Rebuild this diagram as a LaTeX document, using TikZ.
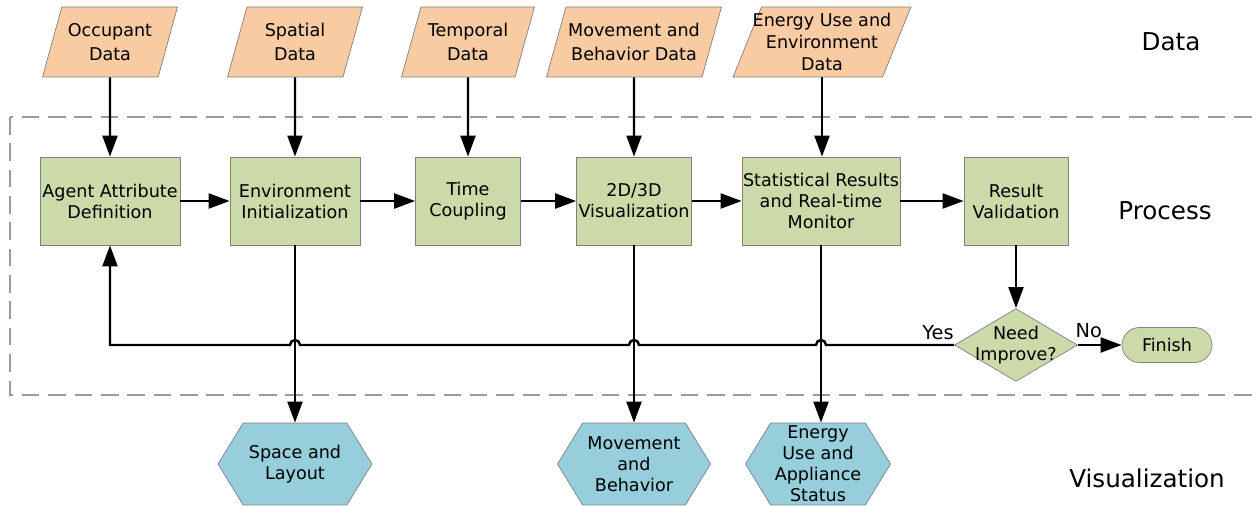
\documentclass[tikz,border=0pt]{standalone}
\usepackage{fontspec}
\setmainfont{DejaVu Sans}
\usetikzlibrary{shapes.geometric,shapes.symbols,arrows.meta}

\definecolor{datafill}{RGB}{249,203,163}
\definecolor{procfill}{RGB}{204,218,169}
\definecolor{visfill}{RGB}{150,206,219}
\definecolor{edgegray}{RGB}{128,128,128}

\tikzset{
  datanode/.style={trapezium, trapezium left angle=65, trapezium right angle=115,
    trapezium stretches body, draw=edgegray, fill=datafill, minimum height=1.4cm,
    minimum width=2.7cm, inner sep=1pt, align=center, font=\fontsize{10}{14}\selectfont},
  procnode/.style={rectangle, draw=edgegray, fill=procfill, minimum height=1.76cm,
    inner sep=0pt, align=center, font=\fontsize{10}{12}\selectfont},
  visnode/.style={signal, signal to=east and west, signal pointer angle=117,
    draw=edgegray, fill=visfill, minimum height=1.64cm, inner sep=0pt,
    align=center, font=\fontsize{10}{12}\selectfont},
  flow/.style={-{Triangle[length=12pt,width=8.5pt]}, line width=1.4pt},
  layer/.style={font=\fontsize{14}{16}\selectfont}
}

\begin{document}
\begin{tikzpicture}[x=0.02cm, y=-0.02cm]
  \useasboundingbox (0,0) rectangle (1252,506);

  % Process frame
  \draw[edgegray!80, line width=0.8pt, dash pattern=on 10pt off 5pt] (10,117) rectangle (1262,395);

  % Data
  \node[datanode] (occ) at (110,42) {Occupant\\Data};
  \node[datanode] (spat) at (295,42) {Spatial\\Data};
  \node[datanode, minimum width=2.66cm] (temp) at (468,42) {Temporal\\Data};
  \node[datanode, minimum width=3.5cm] (movd) at (634,42) {Movement and\\Behavior Data};
  \node[datanode, minimum width=3.56cm, inner xsep=-0.2cm, font=\fontsize{10}{12.5}\selectfont] (envd) at (822,42) {Energy Use and\\Environment\\Data};

  % Process
  \node[procnode, minimum width=2.8cm] (agent) at (110,201) {Agent Attribute\\Definition};
  \node[procnode, minimum width=2.6cm] (env) at (295,201) {Environment\\Initialization};
  \node[procnode, minimum width=2.1cm] (time) at (468,201) {Time\\Coupling};
  \node[procnode, minimum width=2.3cm] (viz) at (634,201) {2D/3D\\Visualization};
  \node[procnode, minimum width=3.16cm] (stat) at (821,201) {Statistical Results\\and Real-time\\Monitor};
  \node[procnode, minimum width=2.08cm] (valid) at (1016,201) {Result\\Validation};

  % Decision and end
  \node[diamond, aspect=1.68, draw=edgegray, fill=procfill, minimum width=2.46cm, minimum height=1.46cm,
    inner xsep=-0.25cm, inner ysep=-0.02cm, align=center, font=\fontsize{10}{12}\selectfont] (dec) at (1016,345) {Need\\Improve?};
  \node[rectangle, rounded corners=0.35cm, draw=edgegray, fill=procfill, minimum width=1.8cm,
    minimum height=0.7cm, font=\fontsize{10}{12}\selectfont] (fin) at (1167,345) {Finish};

  % Visualization
  \node[visnode, minimum width=3.08cm] (hexsp) at (295,464) {Space and\\Layout};
  \node[visnode, minimum width=3.06cm] (hexmv) at (634,464) {Movement\\and\\Behavior};
  \node[visnode, minimum width=2.9cm] (hexen) at (818,464) {Energy\\Use and\\Appliance\\Status};

  % Layer labels
  \node[layer] (lbldata) at (1171,42) {Data};
  \node[layer] (lblproc) at (1165,211) {Process};
  \node[layer] (lblvis) at (1147,478) {Visualization};

  % Data inputs
  \draw[flow] (occ.south) -- (agent.north);
  \draw[flow] (spat.south) -- (env.north);
  \draw[flow] (temp.south) -- (time.north);
  \draw[flow] (movd.south) -- (viz.north);
  \draw[flow] (envd.south) -- (envd.south |- stat.north);

  % Process chain
  \draw[flow] (agent) -- (env);
  \draw[flow] (env) -- (time);
  \draw[flow] (time) -- (viz);
  \draw[flow] (viz) -- (stat);
  \draw[flow] (stat) -- (valid);
  \draw[flow] (valid) -- (dec);
  \draw[flow] (dec) -- node[pos=0.25, above, font=\fontsize{11}{13}\selectfont] {No} (fin);

  % Outputs
  \draw[flow] (env.south) -- (env.south |- hexsp.north);
  \draw[flow] (viz.south) -- (viz.south |- hexmv.north);
  \draw[flow] (stat.south) -- (stat.south |- hexen.north);

  % Feedback loop with jumps
  \draw[flow] (dec.west) -- ([xshift=0.1cm]stat.south |- dec.west)
    arc[start angle=0, end angle=180, radius=0.1cm]
    -- ([xshift=0.1cm]viz.south |- dec.west)
    arc[start angle=0, end angle=180, radius=0.1cm]
    -- ([xshift=0.1cm]env.south |- dec.west)
    arc[start angle=0, end angle=180, radius=0.1cm]
    -- (agent.south |- dec.west) -- (agent.south);
  \node[font=\fontsize{11}{13}\selectfont] (yes) at (938,333) {Yes};
\end{tikzpicture}
\end{document}
